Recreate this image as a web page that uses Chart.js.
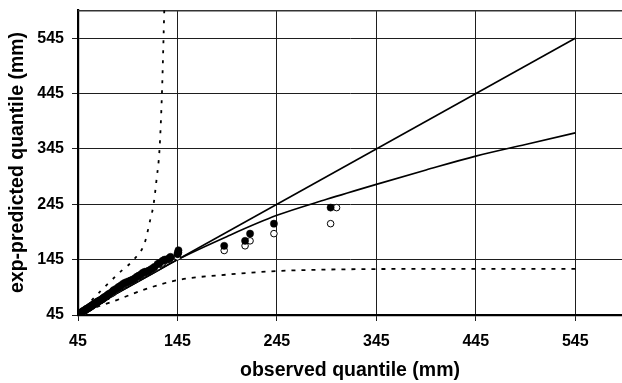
<!DOCTYPE html>
<html>
<head>
<meta charset="utf-8">
<script src="https://cdn.jsdelivr.net/npm/chart.js@4.4.0/dist/chart.umd.min.js"></script>
<style>
  html, body { margin: 0; padding: 0; background: #ffffff; }
  #wrap { width: 622px; height: 383px; }
</style>
</head>
<body>
<div id="wrap"><canvas id="qq" width="622" height="383"></canvas></div>
<script>
// Tick positions shared by both axes (mm)
const tickValues = [45, 145, 245, 345, 445, 545];

// Observed vs. exponential-model predicted quantiles (filled markers)
const obsFilled  = [45, 45.5, 46, 47, 48, 49, 50, 51, 52, 53, 54, 55, 56, 57, 58, 59, 60, 61, 62, 63,
                    64, 65, 66, 67, 68, 69, 70, 71, 72, 74, 75, 76, 78, 80, 81, 83, 85, 86, 88, 90,
                    92, 94, 96, 98, 100, 102, 104, 106, 108, 110, 112, 114, 116, 118, 120, 122, 125, 127, 130, 132,
                    135, 137, 138, 145, 145.5, 146, 192, 213, 218, 242, 299];
const predFilled = [45.5, 46.5, 47.5, 48.5, 49.5, 50.5, 52, 53, 54, 55.5, 56.5, 57.5, 58.5, 60, 61, 62.5, 63.5, 65, 66, 67,
                    68.5, 69.5, 70.5, 71.5, 72.5, 73.5, 75, 76.5, 78, 80, 81.5, 83, 85, 88, 90, 92, 94, 96, 98, 101,
                    103, 104.5, 106, 107.5, 109, 111, 114, 116, 118, 121, 123, 123.5, 125, 127, 129.5, 132, 137, 139, 143, 145,
                    146, 148, 150, 155, 158, 162, 170, 179, 192, 210, 239];

// Same quantiles with the alternative plotting position (open markers)
const obsOpen  = [45, 45.5, 46, 47, 48, 49, 50, 51, 52, 53, 54, 55, 56, 57, 58, 59, 60, 61, 62, 63,
                  64, 65, 66, 67, 68, 69, 70, 71, 72, 74, 75, 76, 78, 80, 81, 83, 85, 86, 88, 90,
                  92, 94, 96, 98, 100, 102, 104, 106, 108, 110, 112, 114, 116, 118, 120, 122, 125, 127, 130, 132,
                  135, 137, 138, 145, 145.5, 146, 192, 213, 218, 242, 299, 305];
const predOpen = [45, 45.5, 46.5, 47.5, 48.5, 49.5, 50.5, 52, 53, 54, 55.5, 56.5, 57.5, 58.5, 60, 61, 62.5, 63.5, 65, 66,
                  67, 68.5, 69.5, 70.5, 71.5, 72.5, 73.5, 75, 76.5, 78, 80, 81.5, 83, 85, 88, 90, 92, 94, 96, 98,
                  101, 103, 104.5, 106, 107.5, 109, 111, 114, 116, 118, 121, 123, 123.5, 125, 127, 129.5, 132, 137, 139, 143,
                  145, 146, 148, 150, 155, 158, 161.5, 170, 179, 192, 210, 239];

// 1:1 reference line
const identX = [45, 545];
const identY = [45, 545];

// Fitted exponential quantile curve
const fitX = [45, 70, 95, 120, 145, 195, 245, 295, 345, 395, 445, 495, 545];
const fitY = [45, 70, 95, 120, 145, 187, 225, 254, 281, 307, 332, 353, 374];

// Upper confidence bound
const upperX = [45, 52, 59, 66, 72, 87, 101, 112, 117.5, 121, 124, 127, 129.4, 131, 131.8];
const upperY = [45, 58, 72, 85, 96, 122, 145, 175, 216, 245, 290, 345, 445, 545, 600];

// Lower confidence bound
const lowerX = [45, 60, 84, 110, 145, 195, 245, 295, 345, 445, 545];
const lowerY = [45, 57, 72, 90, 108, 118, 124.5, 127, 128, 128.5, 128.5];

const toPts = (xs, ys) => xs.map((x, i) => ({ x: x, y: ys[i] }));

const FONT = "'Liberation Sans', Arial, sans-serif";

// Thin frame line along the top of the plotting area
const topFrame = {
  id: 'topFrame',
  beforeDatasetsDraw(chart) {
    const { ctx, chartArea } = chart;
    ctx.save();
    ctx.strokeStyle = '#333333';
    ctx.lineWidth = 1.5;
    ctx.beginPath();
    ctx.moveTo(chartArea.left, chartArea.top + 0.75);
    ctx.lineTo(chartArea.right, chartArea.top + 0.75);
    ctx.stroke();
    ctx.restore();
  }
};

const fixTicks = scale => { scale.ticks = tickValues.map(v => ({ value: v })); };
const noEdgePadding = s => { s.paddingTop = 0; s.paddingBottom = 0; s.paddingLeft = 0; s.paddingRight = 0; };

new Chart(document.getElementById('qq'), {
  type: 'scatter',
  data: {
    datasets: [
      {
        label: 'filled',
        data: toPts(obsFilled, predFilled),
        pointRadius: 3.6,
        pointBackgroundColor: '#000000',
        pointBorderColor: '#000000',
        pointBorderWidth: 0.5,
        showLine: false
      },
      {
        label: 'open',
        data: toPts(obsOpen, predOpen),
        pointRadius: 3.3,
        pointBackgroundColor: '#ffffff',
        pointBorderColor: '#000000',
        pointBorderWidth: 1,
        showLine: false
      },
      {
        label: '1:1',
        data: toPts(identX, identY),
        showLine: true,
        borderColor: '#000000',
        borderWidth: 1.6,
        pointRadius: 0
      },
      {
        label: 'fit',
        data: toPts(fitX, fitY),
        showLine: true,
        borderColor: '#000000',
        borderWidth: 1.6,
        pointRadius: 0,
        cubicInterpolationMode: 'monotone'
      },
      {
        label: 'upper',
        data: toPts(upperX, upperY),
        showLine: true,
        borderColor: '#000000',
        borderWidth: 1.8,
        borderDash: [3, 7],
        pointRadius: 0,
        cubicInterpolationMode: 'monotone'
      },
      {
        label: 'lower',
        data: toPts(lowerX, lowerY),
        showLine: true,
        borderColor: '#000000',
        borderWidth: 1.8,
        borderDash: [4, 6],
        pointRadius: 0,
        cubicInterpolationMode: 'monotone'
      }
    ]
  },
  options: {
    responsive: false,
    animation: false,
    devicePixelRatio: 1,
    layout: { autoPadding: false, padding: { top: 10, right: 0, bottom: 0, left: 0 } },
    plugins: { legend: { display: false }, tooltip: { enabled: false } },
    scales: {
      x: {
        type: 'linear',
        min: 45,
        max: 592,
        afterBuildTicks: fixTicks,
        afterFit: s => { s.height = 68; noEdgePadding(s); },
        border: { display: true, color: '#000000', width: 2.2 },
        grid: { color: '#1e1e1e', lineWidth: 1, tickLength: 6, drawTicks: true },
        ticks: { color: '#000000', padding: 10.5, maxRotation: 0,
                 font: { family: FONT, size: 16, weight: 'bold' } },
        title: { display: true, text: 'observed quantile (mm)', color: '#000000',
                 padding: { top: 0, bottom: 1 },
                 font: { family: FONT, size: 19.5, weight: 'bold', lineHeight: 1.2 } }
      },
      y: {
        type: 'linear',
        min: 45,
        max: 596,
        afterBuildTicks: fixTicks,
        afterFit: s => { s.width = 78; noEdgePadding(s); },
        border: { display: true, color: '#000000', width: 2.2 },
        grid: { color: '#1e1e1e', lineWidth: 1, tickLength: 6, drawTicks: true },
        ticks: { color: '#000000', padding: 8,
                 font: { family: FONT, size: 16, weight: 'bold' } },
        title: { display: true, text: 'exp-predicted quantile (mm)', color: '#000000',
                 padding: { top: 6, bottom: 0 },
                 font: { family: FONT, size: 19.5, weight: 'bold', lineHeight: 1.2 } }
      }
    }
  },
  plugins: [topFrame]
});
</script>
</body>
</html>
